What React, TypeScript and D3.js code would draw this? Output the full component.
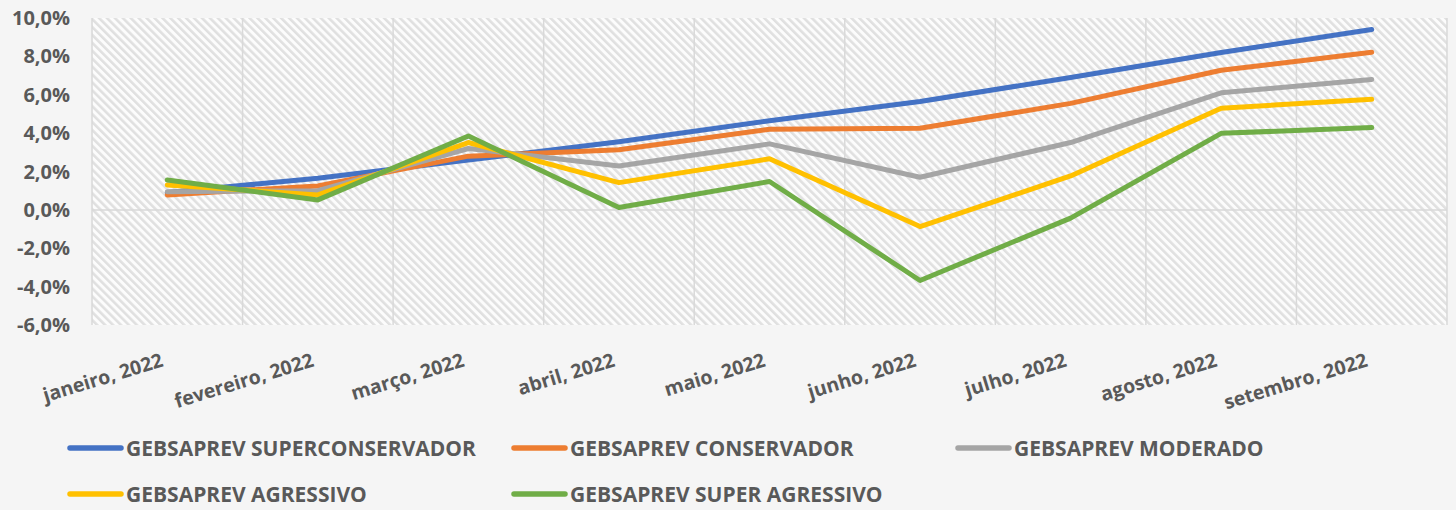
import React, { useRef, useEffect } from "react";
import * as d3 from "d3";

const meses = [
  "janeiro, 2022",
  "fevereiro, 2022",
  "março, 2022",
  "abril, 2022",
  "maio, 2022",
  "junho, 2022",
  "julho, 2022",
  "agosto, 2022",
  "setembro, 2022",
];

const superConservador = [0.9, 1.65, 2.6, 3.55, 4.65, 5.65, 6.9, 8.2, 9.4];
const conservador = [0.78, 1.25, 2.8, 3.13, 4.2, 4.25, 5.55, 7.28, 8.21];
const moderado = [0.95, 1.0, 3.2, 2.29, 3.44, 1.7, 3.51, 6.1, 6.8];
const agressivo = [1.3, 0.78, 3.51, 1.42, 2.66, -0.87, 1.77, 5.3, 5.76];
const superAgressivo = [1.56, 0.52, 3.85, 0.12, 1.48, -3.68, -0.43, 3.99, 4.29];

const nomes = [
  "GEBSAPREV SUPERCONSERVADOR",
  "GEBSAPREV CONSERVADOR",
  "GEBSAPREV MODERADO",
  "GEBSAPREV AGRESSIVO",
  "GEBSAPREV SUPER AGRESSIVO",
];
const cores = ["#4472C4", "#ED7D31", "#A5A5A5", "#FFC000", "#70AD47"];
const yTicks = [-6, -4, -2, 0, 2, 4, 6, 8, 10];

const App = () => {
  const svgRef = useRef<SVGSVGElement>(null);

  useEffect(() => {
    document.body.style.margin = "0";
    const svg = d3.select(svgRef.current);
    svg.selectAll("*").remove();

    const W = 1456,
      H = 510;
    const plot = { left: 92, right: 1447, top: 18, bottom: 325 };
    const fonte = "'Open Sans', 'DejaVu Sans', sans-serif";
    const cinzaTexto = "#595959";

    const series = [superConservador, conservador, moderado, agressivo, superAgressivo];

    // fundo da página
    svg.append("rect").attr("width", W).attr("height", H).attr("fill", "#f5f5f5");

    // hachura diagonal da área do gráfico
    const defs = svg.append("defs");
    const pat = defs
      .append("pattern")
      .attr("id", "hachura")
      .attr("patternUnits", "userSpaceOnUse")
      .attr("width", 5.6)
      .attr("height", 5.6)
      .attr("patternTransform", "rotate(-45)");
    pat.append("rect").attr("width", 5.6).attr("height", 5.6).attr("fill", "#fcfcfc");
    pat.append("rect").attr("width", 2.6).attr("height", 5.6).attr("fill", "#e0e0e0");

    const x = d3.scaleBand().domain(meses).range([plot.left, plot.right]);
    const y = d3.scaleLinear().domain([-6, 10]).range([plot.bottom, plot.top]);
    const cx = (m: string) => (x(m) as number) + x.bandwidth() / 2;

    svg
      .append("rect")
      .attr("x", plot.left)
      .attr("y", plot.top)
      .attr("width", plot.right - plot.left)
      .attr("height", plot.bottom - plot.top)
      .attr("fill", "url(#hachura)");

    // linhas verticais entre as categorias
    const bordas = meses.map((m) => x(m) as number).concat([plot.right]);
    svg
      .append("g")
      .selectAll("line")
      .data(bordas)
      .join("line")
      .attr("x1", (d) => d)
      .attr("x2", (d) => d)
      .attr("y1", plot.top)
      .attr("y2", plot.bottom)
      .attr("stroke", "#d9d9d9")
      .attr("stroke-width", 1.5);

    // linha do zero
    svg
      .append("line")
      .attr("x1", plot.left)
      .attr("x2", plot.right)
      .attr("y1", y(0))
      .attr("y2", y(0))
      .attr("stroke", "#d9d9d9")
      .attr("stroke-width", 1.5);

    // eixo Y
    svg
      .append("g")
      .selectAll("text")
      .data(yTicks)
      .join("text")
      .attr("x", 70)
      .attr("y", (d) => y(d))
      .attr("dy", "0.35em")
      .attr("text-anchor", "end")
      .style("font-family", fonte)
      .style("font-weight", "700")
      .style("font-size", "20px")
      .attr("fill", cinzaTexto)
      .text((d) => d3.format(".1f")(d).replace(".", ",").replace("−", "-") + "%");

    // eixo X (rótulos inclinados)
    svg
      .append("g")
      .selectAll("text")
      .data(meses)
      .join("text")
      .attr("transform", (d) => `translate(${cx(d) - 3}, 366) rotate(-17)`)
      .attr("text-anchor", "end")
      .style("font-family", fonte)
      .style("font-weight", "700")
      .style("font-size", "19.5px")
      .attr("fill", cinzaTexto)
      .text((d) => d);

    // linhas das séries
    const linha = d3
      .line<number>()
      .x((d, i) => cx(meses[i]))
      .y((d) => y(d));

    svg
      .append("g")
      .selectAll("path")
      .data(series)
      .join("path")
      .attr("d", (d) => linha(d))
      .attr("fill", "none")
      .attr("stroke", (d, i) => cores[i])
      .attr("stroke-width", 5)
      .attr("stroke-linecap", "round")
      .attr("stroke-linejoin", "round");

    // legenda
    const legenda = svg
      .append("g")
      .selectAll("g")
      .data(nomes)
      .join("g")
      .attr("transform", (d, i) => `translate(${70 + (i % 3) * 444}, ${448 + Math.floor(i / 3) * 46})`);

    legenda
      .append("line")
      .attr("x1", 0)
      .attr("x2", 51)
      .attr("stroke", (d, i) => cores[i])
      .attr("stroke-width", 5.5)
      .attr("stroke-linecap", "round");

    legenda
      .append("text")
      .attr("x", 56)
      .attr("dy", "0.36em")
      .style("font-family", fonte)
      .style("font-weight", "700")
      .style("font-size", "21px")
      .attr("fill", cinzaTexto)
      .text((d) => d);
  }, []);

  return <svg ref={svgRef} width={1456} height={510} style={{ display: "block" }}></svg>;
};

export default App;
